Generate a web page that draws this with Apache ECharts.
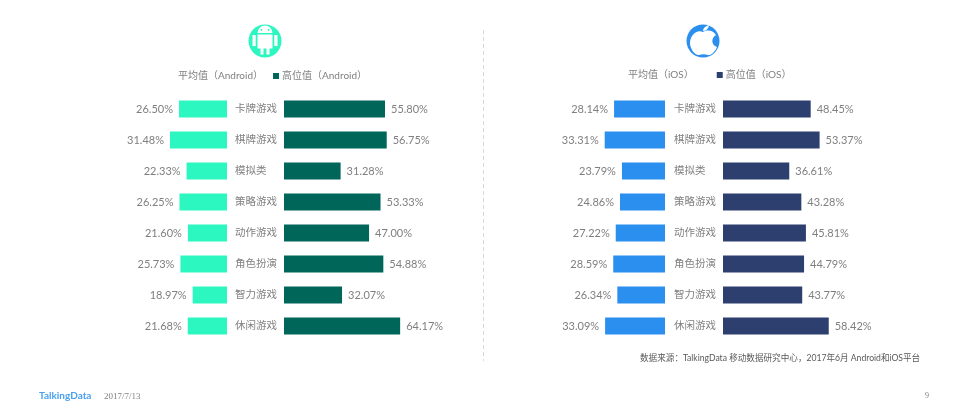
<!DOCTYPE html>
<html>
<head>
<meta charset="utf-8">
<style>
html,body{margin:0;padding:0;background:#fff;}
#main{width:968px;height:419px;}
</style>
<script src="https://cdn.jsdelivr.net/npm/echarts@6/dist/echarts.min.js"></script>
</head>
<body>
<div id="main"></div>
<script>
var categories = ['卡牌游戏','棋牌游戏','模拟类','策略游戏','动作游戏','角色扮演','智力游戏','休闲游戏'];
var androidAvg = [26.50,31.48,22.33,26.25,21.60,25.73,18.97,21.68];
var androidHigh = [55.80,56.75,31.28,53.33,47.00,54.88,32.07,64.17];
var iosAvg = [28.14,33.31,23.79,24.86,27.22,28.59,26.34,33.09];
var iosHigh = [48.45,53.37,36.61,43.28,45.81,44.79,43.77,58.42];

var FONT = 'Lato, "Noto Sans CJK SC", sans-serif';
var myChart = echarts.init(document.getElementById('main'));

// 两个图标用自定义形状画
echarts.graphic.registerShape('androidIcon', echarts.graphic.extendShape({
    type:'androidIcon',
    shape:{},
    buildPath:function(ctx){
        ctx.moveTo(257.5,33);
        ctx.arc(265,33,7.5,Math.PI,0);
        ctx.closePath();
        ctx.rect(257.5,34.5,15,14);
        ctx.rect(260.5,48.5,3,6);
        ctx.rect(266.5,48.5,3,6);
        ctx.rect(252.5,35,3.2,11);
        ctx.rect(274.3,35,3.2,11);
    }
}));
echarts.graphic.registerShape('appleIcon', echarts.graphic.extendShape({
    type:'appleIcon',
    shape:{},
    buildPath:function(ctx){
        ctx.moveTo(703,32);
        ctx.bezierCurveTo(708,29,714,31,716,35);
        ctx.bezierCurveTo(711,38,711,45,717,47);
        ctx.bezierCurveTo(715,52,711,55.5,708,55);
        ctx.bezierCurveTo(705,54,702,54,699,55);
        ctx.bezierCurveTo(695,55.5,690,49,690,43);
        ctx.bezierCurveTo(690,35,697,29,703,32);
        ctx.closePath();
        ctx.moveTo(703,31);
        ctx.bezierCurveTo(703,28,706,26,709,25);
        ctx.bezierCurveTo(709,28,706,31,703,31);
        ctx.closePath();
    }
}));

function pct(p){ return p.value.toFixed(2) + '%'; }

// 每个平台两个grid：左边平均值(反向)，右边高位值
function grid(left, width){
    return {left:left, width:width, top:93.5, height:248, containLabel:false};
}
function xAxis(idx, inverse){
    return {type:'value', gridIndex:idx, min:0, max:100, inverse:inverse, show:false};
}
function yAxis(idx, showLabel){
    return {
        type:'category', gridIndex:idx, data:categories, inverse:true,
        axisLine:{show:false}, axisTick:{show:false}, splitLine:{show:false},
        axisLabel:{show:showLabel, margin:49, align:'left', color:'#808080', fontSize:10.5, fontFamily:FONT}
    };
}
function bar(name, data, idx, color, pos){
    return {
        name:name, type:'bar', xAxisIndex:idx, yAxisIndex:idx, data:data, barWidth:17,
        itemStyle:{color:color},
        label:{show:true, position:pos, distance:6, formatter:pct, color:'#7f7f7f', fontSize:11, fontFamily:FONT}
    };
}
function legend(names, left, top, gap){
    return {
        left:left, top:top, itemWidth:6, itemHeight:6, itemGap:gap, icon:'rect',
        textStyle:{color:'#808080', fontSize:10, fontFamily:FONT, padding:[0,0,0,-2]},
        data:[{name:names[0], itemStyle:{opacity:0}}, {name:names[1]}]
    };
}
function note(text, left, top, color, size, family, weight){
    return {text:text, left:left, top:top, padding:0,
        textStyle:{color:color, fontSize:size, fontFamily:family||FONT, fontWeight:weight||'normal'}};
}

var option = {
    animation:false,
    backgroundColor:'#fff',
    title:[
        note('数据来源：TalkingData 移动数据研究中心，2017年6月 Android和iOS平台', 640, 354, '#595959', 8.6),
        note('TalkingData', 39, 391, '#4a9ff0', 10, FONT, 'bold'),
        note('2017/7/13', 104, 392, '#808080', 9, '"Liberation Serif", serif'),
        note('9', 925, 392, '#808080', 8, '"Liberation Serif", serif')
    ],
    legend:[
        legend(['平均值（Android）','高位值（Android）'], 164, 66, 10),
        legend(['平均值（iOS）','高位值（iOS）'], 614, 65, 23)
    ],
    grid:[grid(46,181), grid(284,181), grid(484,181), grid(723,181)],
    xAxis:[xAxis(0,true), xAxis(1,false), xAxis(2,true), xAxis(3,false)],
    yAxis:[yAxis(0,false), yAxis(1,true), yAxis(2,false), yAxis(3,true)],
    series:[
        bar('平均值（Android）', androidAvg, 0, '#2cf7c0', 'left'),
        bar('高位值（Android）', androidHigh, 1, '#00665a', 'right'),
        bar('平均值（iOS）', iosAvg, 2, '#2b8ff0', 'left'),
        bar('高位值（iOS）', iosHigh, 3, '#2c3f6e', 'right')
    ],
    graphic:[
        {type:'line', shape:{x1:483.5,y1:30,x2:483.5,y2:361}, style:{stroke:'#d9d9d9', lineWidth:1, lineDash:[4,3]}},
        {type:'circle', shape:{cx:265,cy:41,r:16.5}, style:{fill:'#2cf7c0'}},
        {type:'androidIcon', style:{fill:'#fff'}, z:5},
        {type:'circle', shape:{cx:261.5,cy:30,r:0.9}, style:{fill:'#2cf7c0'}, z:6},
        {type:'circle', shape:{cx:268.5,cy:30,r:0.9}, style:{fill:'#2cf7c0'}, z:6},
        {type:'circle', shape:{cx:703,cy:41,r:16.5}, style:{fill:'#2b8ff0'}},
        {type:'appleIcon', style:{fill:'#fff'}, z:5}
    ]
};
myChart.setOption(option);
</script>
</body>
</html>
